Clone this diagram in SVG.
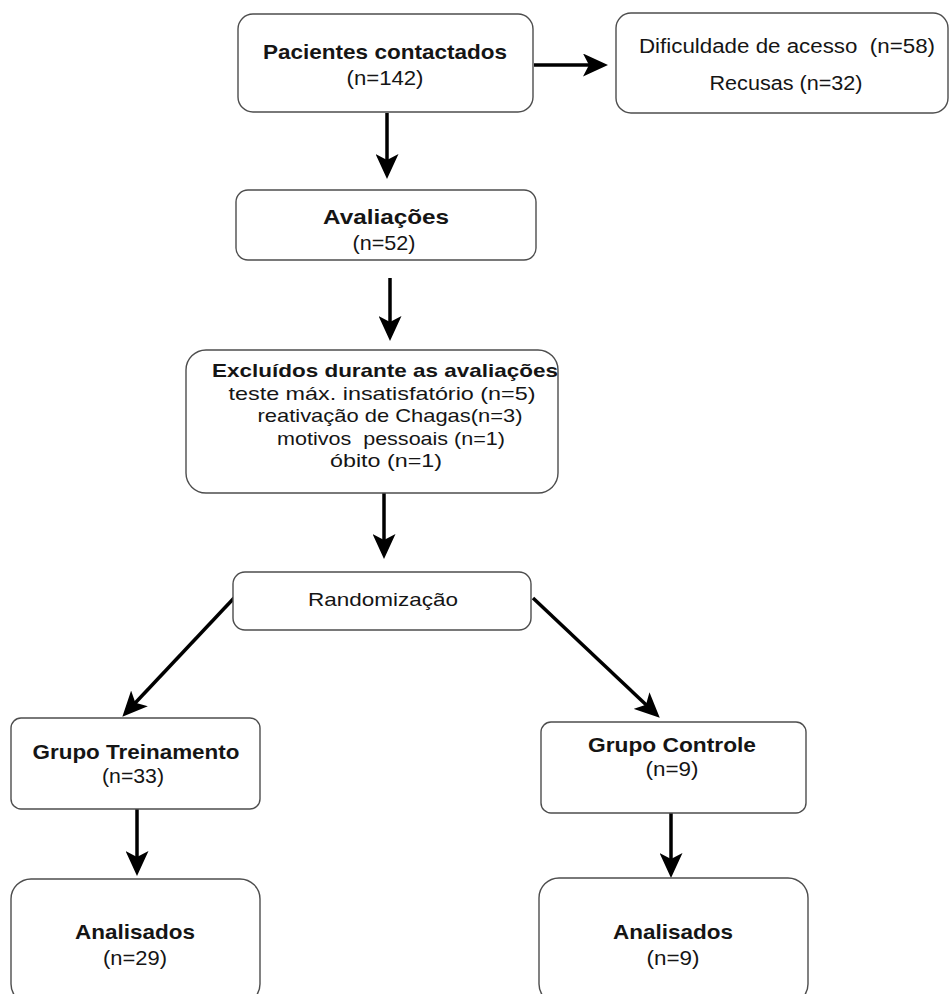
<svg xmlns="http://www.w3.org/2000/svg" width="950" height="994" viewBox="0 0 950 994">
<style>
.box{fill:#fff;stroke:#4d4d4d;stroke-width:1.4}
.t{font-family:"Liberation Sans",Arial,sans-serif;fill:#151515;text-anchor:middle}
.b{font-weight:bold}
.c{fill:none;stroke:#000;stroke-width:3.5}
</style>
<defs>
<marker id="ah" markerUnits="userSpaceOnUse" markerWidth="25" markerHeight="23" refX="8" refY="11.5" orient="auto" viewBox="0 0 25 23">
<path d="M0,0 L25,11.5 L0,23 L6,11.5 z" fill="#000"/>
</marker>
</defs>
<rect width="950" height="994" fill="#fff"/>
<g id="connectors">
<line class="c" x1="534" y1="65" x2="591" y2="65" marker-end="url(#ah)"/>
<line class="c" x1="387" y1="113" x2="387" y2="162" marker-end="url(#ah)"/>
<line class="c" x1="390" y1="278" x2="390" y2="324" marker-end="url(#ah)"/>
<line class="c" x1="384" y1="493" x2="384" y2="542" marker-end="url(#ah)"/>
<line class="c" x1="234" y1="598" x2="134" y2="704.3" marker-end="url(#ah)"/>
<line class="c" x1="533" y1="598" x2="647.4" y2="706" marker-end="url(#ah)"/>
<line class="c" x1="137" y1="809" x2="137" y2="859" marker-end="url(#ah)"/>
<line class="c" x1="671" y1="808" x2="671" y2="861" marker-end="url(#ah)"/>
</g>
<g id="pacientes">
<rect class="box" x="238" y="14" width="295" height="98" rx="15"/>
<text class="t b" x="385" y="59" font-size="21" textLength="244" lengthAdjust="spacingAndGlyphs">Pacientes contactados</text>
<text class="t" x="385" y="85" font-size="21" textLength="77" lengthAdjust="spacingAndGlyphs">(n=142)</text>
</g>
<g id="dificuldade">
<rect class="box" x="616" y="13" width="332" height="100" rx="15"/>
<text class="t" x="787" y="53" font-size="20" textLength="296" lengthAdjust="spacingAndGlyphs" xml:space="preserve">Dificuldade de acesso  (n=58)</text>
<text class="t" x="786" y="90" font-size="20" textLength="153" lengthAdjust="spacingAndGlyphs">Recusas (n=32)</text>
</g>
<g id="avaliacoes">
<rect class="box" x="236" y="190" width="300" height="70" rx="12"/>
<text class="t b" x="386" y="224" font-size="21" textLength="126" lengthAdjust="spacingAndGlyphs">Avaliações</text>
<text class="t" x="384" y="250" font-size="21" textLength="63" lengthAdjust="spacingAndGlyphs">(n=52)</text>
</g>
<g id="excluidos">
<rect class="box" x="186" y="350" width="372" height="143" rx="20"/>
<text class="t b" x="385" y="377" font-size="18.5" textLength="346" lengthAdjust="spacingAndGlyphs">Excluídos durante as avaliações</text>
<text class="t" x="382" y="399.5" font-size="18.5" textLength="307" lengthAdjust="spacingAndGlyphs">teste máx. insatisfatório (n=5)</text>
<text class="t" x="390" y="422" font-size="18.5" textLength="265" lengthAdjust="spacingAndGlyphs">reativação de Chagas(n=3)</text>
<text class="t" x="391" y="444.5" font-size="18.5" textLength="228" lengthAdjust="spacingAndGlyphs" xml:space="preserve">motivos  pessoais (n=1)</text>
<text class="t" x="386" y="467" font-size="18.5" textLength="112" lengthAdjust="spacingAndGlyphs">óbito (n=1)</text>
</g>
<g id="randomizacao">
<rect class="box" x="233" y="572" width="298" height="58" rx="12"/>
<text class="t" x="383" y="606" font-size="19" textLength="150" lengthAdjust="spacingAndGlyphs">Randomização</text>
</g>
<g id="grupo-treinamento">
<rect class="box" x="11" y="718" width="249" height="91" rx="10"/>
<text class="t b" x="136" y="759" font-size="21" textLength="207" lengthAdjust="spacingAndGlyphs">Grupo Treinamento</text>
<text class="t" x="133" y="783" font-size="21" textLength="62" lengthAdjust="spacingAndGlyphs">(n=33)</text>
</g>
<g id="grupo-controle">
<rect class="box" x="541" y="722" width="265" height="91" rx="10"/>
<text class="t b" x="672" y="752" font-size="21" textLength="168" lengthAdjust="spacingAndGlyphs">Grupo Controle</text>
<text class="t" x="672" y="776" font-size="21" textLength="53" lengthAdjust="spacingAndGlyphs">(n=9)</text>
</g>
<g id="analisados-treinamento">
<rect class="box" x="11" y="879" width="249" height="125" rx="20"/>
<text class="t b" x="135" y="939" font-size="21" textLength="120" lengthAdjust="spacingAndGlyphs">Analisados</text>
<text class="t" x="135" y="965" font-size="21" textLength="64" lengthAdjust="spacingAndGlyphs">(n=29)</text>
</g>
<g id="analisados-controle">
<rect class="box" x="539" y="878" width="269" height="126" rx="20"/>
<text class="t b" x="673" y="939" font-size="21" textLength="120" lengthAdjust="spacingAndGlyphs">Analisados</text>
<text class="t" x="673" y="965" font-size="21" textLength="53" lengthAdjust="spacingAndGlyphs">(n=9)</text>
</g>
</svg>
